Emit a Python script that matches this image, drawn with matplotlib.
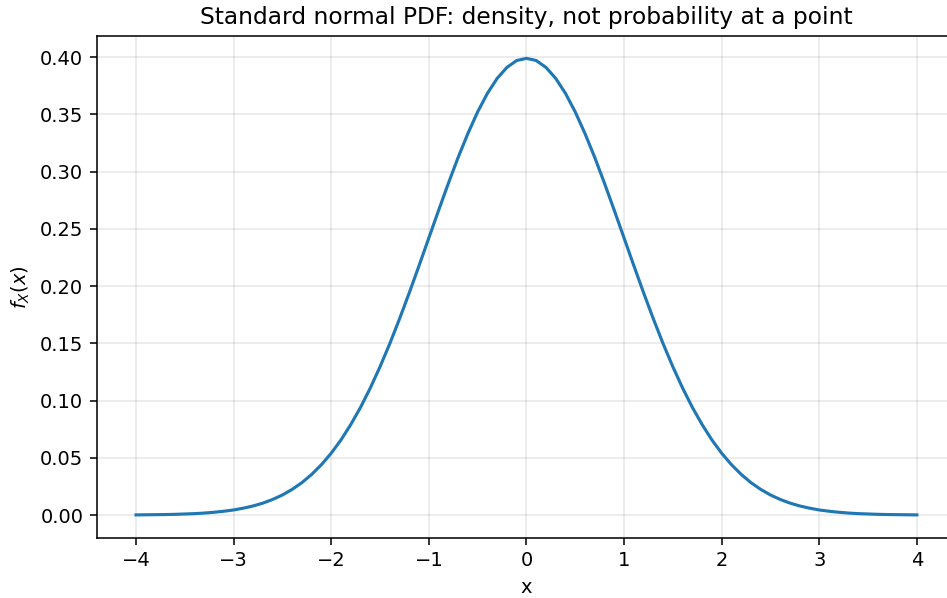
import numpy as np
import matplotlib
matplotlib.use("Agg")
import matplotlib.pyplot as plt

# Values (step 0.1 on x).
x_vals = [-4.0, -3.9, -3.8, -3.7, -3.6, -3.5, -3.4, -3.3, -3.2, -3.1,
          -3.0, -2.9, -2.8, -2.7, -2.6, -2.5, -2.4, -2.3, -2.2, -2.1,
          -2.0, -1.9, -1.8, -1.7, -1.6, -1.5, -1.4, -1.3, -1.2, -1.1,
          -1.0, -0.9, -0.8, -0.7, -0.6, -0.5, -0.4, -0.3, -0.2, -0.1,
          0.0,
          0.1, 0.2, 0.3, 0.4, 0.5, 0.6, 0.7, 0.8, 0.9, 1.0,
          1.1, 1.2, 1.3, 1.4, 1.5, 1.6, 1.7, 1.8, 1.9, 2.0,
          2.1, 2.2, 2.3, 2.4, 2.5, 2.6, 2.7, 2.8, 2.9, 3.0,
          3.1, 3.2, 3.3, 3.4, 3.5, 3.6, 3.7, 3.8, 3.9, 4.0]

density = [0.0001, 0.0002, 0.0003, 0.0004, 0.0006, 0.0009, 0.0012, 0.0017, 0.0024, 0.0033,
           0.0044, 0.0060, 0.0079, 0.0104, 0.0136, 0.0175, 0.0224, 0.0283, 0.0355, 0.0440,
           0.0540, 0.0656, 0.0790, 0.0940, 0.1109, 0.1295, 0.1497, 0.1714, 0.1942, 0.2179,
           0.2420, 0.2661, 0.2897, 0.3123, 0.3332, 0.3521, 0.3683, 0.3814, 0.3910, 0.3970,
           0.3989,
           0.3970, 0.3910, 0.3814, 0.3683, 0.3521, 0.3332, 0.3123, 0.2897, 0.2661, 0.2420,
           0.2179, 0.1942, 0.1714, 0.1497, 0.1295, 0.1109, 0.0940, 0.0790, 0.0656, 0.0540,
           0.0440, 0.0355, 0.0283, 0.0224, 0.0175, 0.0136, 0.0104, 0.0079, 0.0060, 0.0044,
           0.0033, 0.0024, 0.0017, 0.0012, 0.0009, 0.0006, 0.0004, 0.0003, 0.0002, 0.0001]

DPI = 140
fig = plt.figure(figsize=(947 / DPI, 598 / DPI), dpi=DPI)
# Axes runs a little past the right edge, as in the reference crop.
ax = fig.add_axes([0.1024, 0.1008, 0.907, 0.8398])

ax.plot(x_vals, density, linewidth=1.6)
ax.grid(True, alpha=0.3)

ax.set_title("Standard normal PDF: density, not probability at a point")
ax.set_xlabel("x")
ax.set_ylabel("$f_X(x)$")

fig.savefig("out.png", dpi=DPI)
